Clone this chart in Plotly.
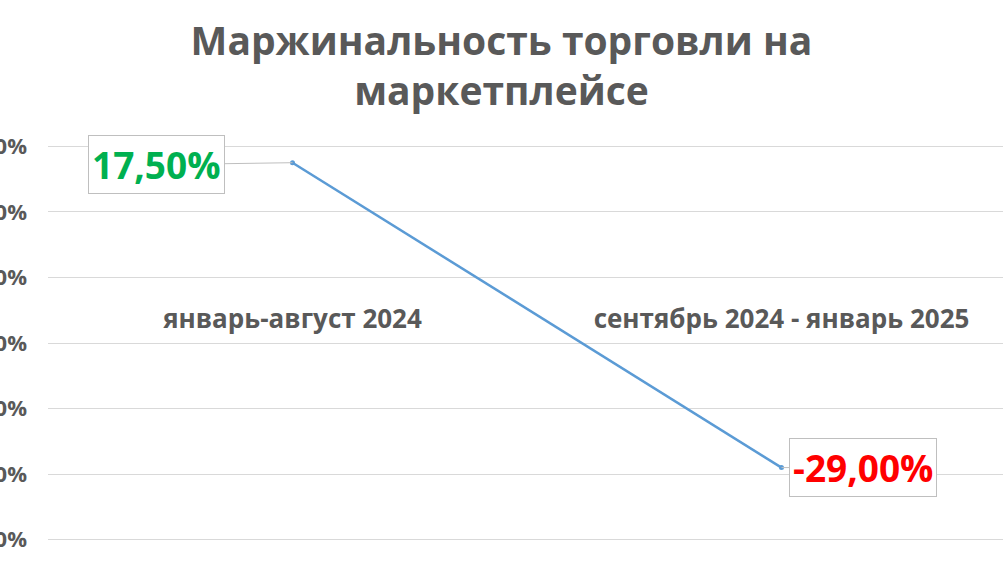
import plotly.graph_objects as go

# data
periods = ["январь-август 2024", "сентябрь 2024 - январь 2025"]
margin_values = [0.175, -0.29]
label_colors = ["#00B050", "#FF0000"]
y_ticks = [0.2, 0.1, 0.0, -0.1, -0.2, -0.3, -0.4]

title_text = "Маржинальность торговли на<br>маркетплейсе"
gray = "#595959"
font_family = "Open Sans"

fig = go.Figure()
fig.add_trace(
    go.Scatter(
        x=periods,
        y=margin_values,
        mode="lines+markers",
        line=dict(color="#5B9BD5", width=2.5),
        marker=dict(color="#5B9BD5", size=5),
        showlegend=False,
        hoverinfo="skip",
    )
)

# boxed data labels with leader lines
offsets = [(-136, 2), (82, 0)]
for x, y, c, (ax, ay) in zip(periods, margin_values, label_colors, offsets):
    fig.add_annotation(
        x=x, y=y, xref="x", yref="y",
        text="{:.2f}%".format(y * 100).replace(".", ","),
        font=dict(family=font_family, size=37, color=c, weight="bold"),
        showarrow=True, arrowhead=0, arrowwidth=1, arrowcolor="#BFBFBF",
        ax=ax, ay=ay,
        bgcolor="white", bordercolor="#BFBFBF", borderwidth=1, borderpad=3,
    )

fig.update_layout(
    width=1003,
    height=564,
    paper_bgcolor="white",
    plot_bgcolor="white",
    separators=", ",
    margin=dict(l=48, r=0, t=145, b=23),
    title=dict(
        text=title_text,
        x=0.5, xanchor="center",
        y=0.903, yanchor="middle",
        font=dict(family=font_family, size=39, color=gray, weight="bold"),
    ),
    font=dict(family=font_family, color=gray),
)

fig.update_xaxes(
    type="category",
    range=[-0.5, 1.453],
    showgrid=False,
    showline=False,
    zeroline=False,
    ticks="",
    anchor="free",
    position=0.605,
    tickfont=dict(family=font_family, size=26, color=gray, weight="bold"),
)
fig.update_yaxes(
    range=[-0.402, 0.202],
    tickvals=y_ticks,
    tickformat=".2%",
    showgrid=True,
    gridcolor="#D9D9D9",
    gridwidth=1,
    zeroline=False,
    showline=False,
    automargin=False,
    ticklabelstandoff=20,
    tickfont=dict(family=font_family, size=22, color=gray, weight="bold"),
)

# drop the default page margin so the clipped tick labels start at the window edge
fig.write_html(
    "out.html",
    config={"displayModeBar": False},
    post_script="document.body.style.margin='0';",
)
